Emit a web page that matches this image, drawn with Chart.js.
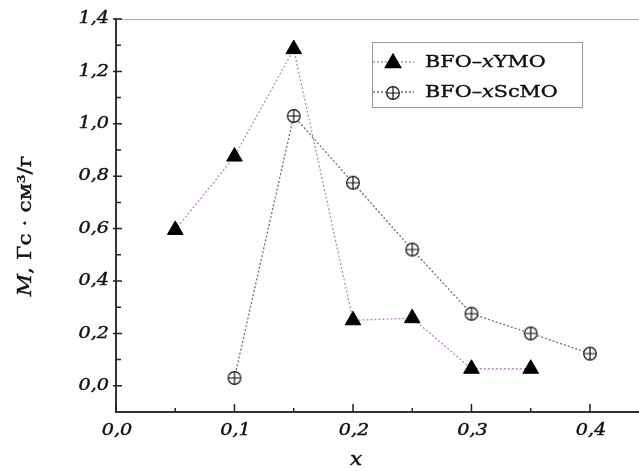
<!DOCTYPE html>
<html>
<head>
<meta charset="utf-8">
<script src="https://cdn.jsdelivr.net/npm/chart.js@4.4.1/dist/chart.umd.min.js"></script>
<style>
    html, body { margin: 0; padding: 0; background: #fff; }
    #wrap { width: 639px; height: 471px; }
</style>
</head>
<body>
<div id="wrap"><canvas id="chart" width="639" height="471"></canvas></div>
<script>
// values
const ymoX = [0.05, 0.1, 0.15, 0.2, 0.25, 0.3, 0.35];
const ymoM = [0.595, 0.875, 1.285, 0.25, 0.258, 0.065, 0.065];
const scmoX = [0.1, 0.15, 0.2, 0.25, 0.3, 0.35, 0.4];
const scmoM = [0.03, 1.03, 0.775, 0.52, 0.275, 0.2, 0.123];

const xTicks = [0, 0.1, 0.2, 0.3, 0.4];
const yTicks = [0, 0.2, 0.4, 0.6, 0.8, 1.0, 1.2, 1.4];

const SERIF = '"DejaVu Serif", "Liberation Serif", serif';

function fmt(v) {
    return v.toFixed(1).replace('.', ',');
}

function toPoints(xs, ys) {
    return xs.map((x, i) => ({ x: x, y: ys[i] }));
}

// circle with a cross inside
function makeCircleCross() {
    const c = document.createElement('canvas');
    c.width = 16;
    c.height = 16;
    const g = c.getContext('2d');
    g.fillStyle = '#fff';
    g.strokeStyle = '#111';
    g.lineWidth = 1.2;
    g.beginPath();
    g.arc(8, 8, 6.3, 0, Math.PI * 2);
    g.fill();
    g.stroke();
    g.beginPath();
    g.moveTo(1.7, 8); g.lineTo(14.3, 8);
    g.moveTo(8, 1.7); g.lineTo(8, 14.3);
    g.stroke();
    return c;
}
const circleCross = makeCircleCross();

// draw text made of runs with different fonts, stretched along the text direction
// (the original face is a lot wider and heavier than DejaVu)
function drawRuns(ctx, runs, x, y, align, stretch) {
    let total = 0;
    runs.forEach(r => { ctx.font = r.font; total += ctx.measureText(r.text).width; });
    ctx.save();
    ctx.translate(x, y);
    ctx.scale(stretch, 1);
    let pos = align === 'center' ? -total / 2 : (align === 'right' ? -total : 0);
    ctx.textAlign = 'left';
    ctx.textBaseline = 'middle';
    ctx.strokeStyle = ctx.fillStyle;
    ctx.lineWidth = 0.4;
    runs.forEach(r => {
        ctx.font = r.font;
        ctx.fillText(r.text, pos, 0);
        ctx.strokeText(r.text, pos, 0);
        pos += ctx.measureText(r.text).width;
    });
    ctx.restore();
}

function midpoints(arr) {
    return arr.slice(0, -1).map((v, i) => (v + arr[i + 1]) / 2);
}

const decorations = {
    id: 'decorations',
    afterDraw(chart) {
        const ctx = chart.ctx;
        const xs = chart.scales.x;
        const ys = chart.scales.y;
        const area = chart.chartArea;
        ctx.save();

        // thin grey line along the top
        ctx.strokeStyle = '#a8a8a8';
        ctx.lineWidth = 1;
        ctx.beginPath();
        ctx.moveTo(area.left - 3, area.top + 0.5);
        ctx.lineTo(area.right, area.top + 0.5);
        ctx.stroke();

        // inward ticks
        ctx.strokeStyle = '#222';
        ctx.lineWidth = 1.5;
        ctx.beginPath();
        xTicks.forEach(v => {
            const px = xs.getPixelForValue(v);
            ctx.moveTo(px, area.bottom); ctx.lineTo(px, area.bottom - 8);
        });
        midpoints(xTicks).forEach(v => {
            const px = xs.getPixelForValue(v);
            ctx.moveTo(px, area.bottom); ctx.lineTo(px, area.bottom - 4);
        });
        yTicks.forEach(v => {
            const py = ys.getPixelForValue(v);
            ctx.moveTo(area.left - 3, py); ctx.lineTo(area.left + 6, py);
        });
        midpoints(yTicks).forEach(v => {
            const py = ys.getPixelForValue(v);
            ctx.moveTo(area.left, py); ctx.lineTo(area.left + 5, py);
        });
        ctx.stroke();

        // tick labels
        ctx.fillStyle = '#111';
        const tickFont = 'italic 16px ' + SERIF;
        xTicks.forEach(v => {
            drawRuns(ctx, [{ text: fmt(v), font: tickFont }], xs.getPixelForValue(v) + 1, area.bottom + 19, 'center', 1.2);
        });
        yTicks.forEach(v => {
            drawRuns(ctx, [{ text: fmt(v), font: tickFont }], area.left - 7, ys.getPixelForValue(v), 'right', 1.2);
        });

        // axis titles
        drawRuns(ctx, [{ text: 'x', font: 'italic 18px ' + SERIF }], 356, 460, 'center', 1.2);
        ctx.save();
        ctx.translate(26, 226);
        ctx.rotate(-Math.PI / 2);
        drawRuns(ctx, [
            { text: 'M', font: 'italic 19px ' + SERIF },
            { text: ', Гс · см³/г', font: '19px ' + SERIF }
        ], 0, 0, 'center', 1.15);
        ctx.restore();

        // legend
        const lx = 372, ly = 42, lw = 210, lh = 65;
        ctx.fillStyle = '#fff';
        ctx.fillRect(lx, ly, lw, lh);
        ctx.strokeStyle = '#999';
        ctx.lineWidth = 1;
        ctx.strokeRect(lx + 0.5, ly + 0.5, lw, lh);

        const rows = [62, 92];
        chart.data.datasets.forEach((ds, i) => {
            const y = rows[i];
            ctx.strokeStyle = ds.borderColor;
            ctx.lineWidth = ds.borderWidth;
            ctx.setLineDash(ds.borderDash);
            ctx.beginPath();
            ctx.moveTo(lx + 1, y);
            ctx.lineTo(lx + 42, y);
            ctx.stroke();
            ctx.setLineDash([]);
            ctx.fillStyle = '#000';
            ctx.strokeStyle = '#000';
            Chart.helpers.drawPoint(ctx, { pointStyle: ds.pointStyle, radius: ds.pointRadius, borderWidth: 1, rotation: 0 }, lx + 21, y + 1);
            ctx.fillStyle = '#111';
            drawRuns(ctx, [
                { text: 'BFO–', font: '17px ' + SERIF },
                { text: 'x', font: 'italic 17px ' + SERIF },
                { text: ds.tail, font: '17px ' + SERIF }
            ], lx + 53, y + 1, 'left', 1.22);
        });

        ctx.restore();
    }
};

new Chart(document.getElementById('chart').getContext('2d'), {
    type: 'scatter',
    data: {
        datasets: [
            {
                label: 'BFO–xYMO',
                tail: 'YMO',
                data: toPoints(ymoX, ymoM),
                showLine: true,
                borderColor: '#c080cc',
                borderWidth: 1.3,
                borderDash: [2, 2],
                pointStyle: 'triangle',
                pointRadius: 9,
                pointBackgroundColor: '#000',
                pointBorderColor: '#000',
                pointBorderWidth: 1
            },
            {
                label: 'BFO–xScMO',
                tail: 'ScMO',
                data: toPoints(scmoX, scmoM),
                showLine: true,
                borderColor: '#707070',
                borderWidth: 1.3,
                borderDash: [2, 2],
                pointStyle: circleCross,
                pointRadius: 7
            }
        ]
    },
    options: {
        responsive: false,
        animation: false,
        layout: { autoPadding: false, padding: { top: 19, right: 0, bottom: 0, left: 0 } },
        plugins: {
            legend: { display: false },
            tooltip: { enabled: false }
        },
        scales: {
            x: {
                type: 'linear',
                min: 0,
                max: 0.4414,
                grid: { display: false, drawTicks: false },
                border: { display: true, color: '#333', width: 2 },
                ticks: { display: false },
                afterFit: scale => { scale.height = 59; }
            },
            y: {
                type: 'linear',
                min: -0.1,
                max: 1.4,
                grid: { display: false, drawTicks: false },
                border: { display: true, color: '#333', width: 2 },
                ticks: { display: false },
                afterFit: scale => { scale.width = 116; }
            }
        }
    },
    plugins: [decorations]
});
</script>
</body>
</html>
